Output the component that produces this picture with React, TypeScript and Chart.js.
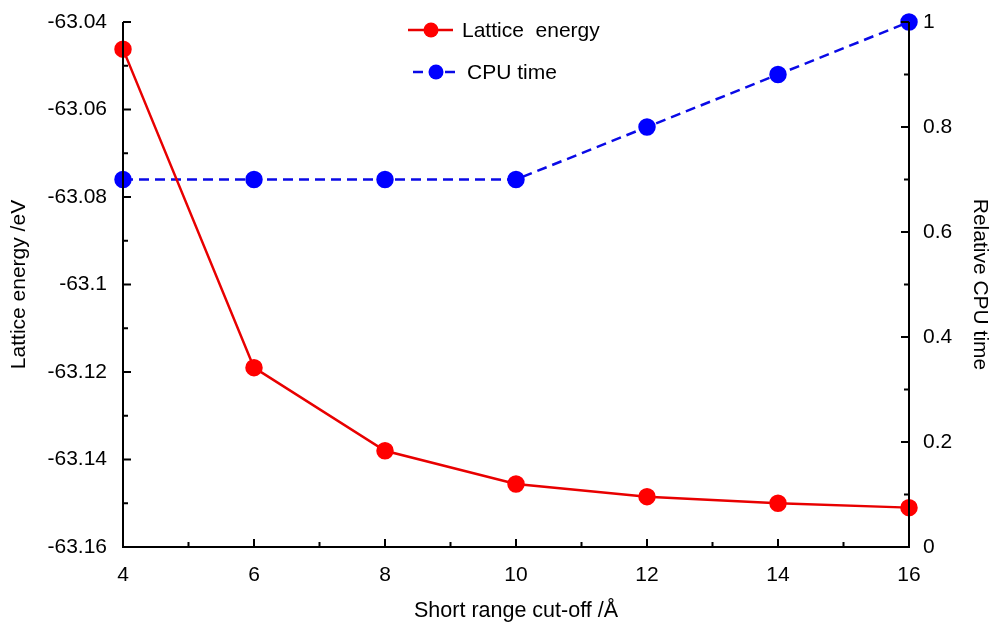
import React, { useEffect, useRef } from 'react';
import { Chart, registerables } from 'chart.js';
Chart.register(...registerables);

const cutoffs = [4, 6, 8, 10, 12, 14, 16];
const latticeEnergy = [-63.0462, -63.119, -63.138, -63.1456, -63.1485, -63.15, -63.151];
const cpuTime = [0.7, 0.7, 0.7, 0.7, 0.8, 0.9, 1.0];
const seriesLabels = ['Lattice  energy', 'CPU time'];
const xTitle = 'Short range cut-off /\u00c5';
const yTitle = 'Lattice energy /eV';
const y1Title = 'Relative CPU time';

const FONT = 'Arial, "Liberation Sans", sans-serif';
const FS = 21;
const RED = '#ff0000';
const RED_LINE = '#e80000';
const BLUE = '#0000ff';
const BLUE_LINE = '#0a0ae6';

const axesPlugin = {
  id: 'inwardAxes',
  afterDatasetsDraw(chart: any) {
    const ctx = chart.ctx;
    const { left, right, top, bottom } = chart.chartArea;
    const sx = chart.scales.x, sy = chart.scales.y, sy1 = chart.scales.y1;
    ctx.save();
    ctx.strokeStyle = '#000';
    ctx.lineWidth = 2;
    ctx.beginPath();
    ctx.moveTo(left, top); ctx.lineTo(left, bottom); ctx.lineTo(right, bottom); ctx.lineTo(right, top);
    ctx.stroke();
    const majors = (s: any) => s.ticks.map((t: any) => t.value);
    const minors = (vals: number[]) => {
      const out: number[] = [];
      for (let i = 0; i < vals.length - 1; i++) out.push((vals[i] + vals[i + 1]) / 2);
      return out;
    };
    const MAJ = 8, MIN = 5;
    ctx.beginPath();
    const xm = majors(sx);
    xm.forEach((v: number) => { const p = sx.getPixelForValue(v); ctx.moveTo(p, bottom); ctx.lineTo(p, bottom - MAJ); });
    minors(xm).forEach((v) => { const p = sx.getPixelForValue(v); ctx.moveTo(p, bottom); ctx.lineTo(p, bottom - MIN); });
    const ym = majors(sy);
    ym.forEach((v: number) => { const p = sy.getPixelForValue(v); ctx.moveTo(left, p); ctx.lineTo(left + MAJ, p); });
    minors(ym).forEach((v) => { const p = sy.getPixelForValue(v); ctx.moveTo(left, p); ctx.lineTo(left + MIN, p); });
    const y1m = majors(sy1);
    y1m.forEach((v: number) => { const p = sy1.getPixelForValue(v); ctx.moveTo(right, p); ctx.lineTo(right - MAJ, p); });
    minors(y1m).forEach((v) => { const p = sy1.getPixelForValue(v); ctx.moveTo(right, p); ctx.lineTo(right - MIN, p); });
    ctx.stroke();
    ctx.restore();
  },
  afterDraw(chart: any) {
    const ctx = chart.ctx;
    const ds = chart.data.datasets;
    const entries = [
      { x: 408, y: 30, tx: 462 },
      { x: 413, y: 72, tx: 467 },
    ];
    ctx.save();
    entries.forEach((e, i) => {
      const d = ds[i];
      ctx.strokeStyle = d.borderColor;
      ctx.lineWidth = d.borderWidth;
      ctx.setLineDash(d.borderDash || []);
      ctx.beginPath();
      ctx.moveTo(e.x, e.y); ctx.lineTo(e.x + 45, e.y);
      ctx.stroke();
      ctx.setLineDash([]);
      ctx.fillStyle = d.pointBackgroundColor;
      ctx.beginPath();
      ctx.arc(e.x + 23, e.y, 7.5, 0, Math.PI * 2);
      ctx.fill();
      ctx.fillStyle = '#000';
      ctx.font = `${FS}px ${FONT}`;
      ctx.textBaseline = 'middle';
      ctx.textAlign = 'left';
      ctx.fillText(d.label, e.tx, e.y + 1);
    });
    ctx.restore();
  },
};

const noPadV = (w: number) => (s: any) => { s.width = w; s.paddingTop = 0; s.paddingBottom = 0; };

export default function App() {
  const ref = useRef<HTMLCanvasElement>(null);
  useEffect(() => {
    document.body.style.margin = '0';
    const chart = new Chart(ref.current!, {
      type: 'line',
      data: {
        datasets: [
          {
            label: seriesLabels[0],
            data: cutoffs.map((x, i) => ({ x, y: latticeEnergy[i] })),
            yAxisID: 'y',
            borderColor: RED_LINE,
            backgroundColor: RED,
            pointBackgroundColor: RED,
            pointBorderColor: RED,
            pointRadius: 7.5,
            borderWidth: 2.5,
            clip: false as any,
          },
          {
            label: seriesLabels[1],
            data: cutoffs.map((x, i) => ({ x, y: cpuTime[i] })),
            yAxisID: 'y1',
            borderColor: BLUE_LINE,
            backgroundColor: BLUE,
            pointBackgroundColor: BLUE,
            pointBorderColor: BLUE,
            pointRadius: 7.5,
            borderWidth: 2.5,
            borderDash: [10, 6],
            clip: false as any,
          },
        ],
      },
      options: {
        responsive: false,
        animation: false,
        layout: { padding: { top: 22, left: 0, right: 0, bottom: 0 } },
        plugins: { legend: { display: false }, tooltip: { enabled: false } },
        scales: {
          x: {
            type: 'linear',
            min: 4,
            max: 16,
            ticks: { stepSize: 2, color: '#000', font: { family: FONT, size: FS }, padding: 16 },
            grid: { display: false, drawTicks: false },
            border: { display: false },
            title: { display: true, text: xTitle, color: '#000', font: { family: FONT, size: 21.5 }, padding: { top: 4, bottom: 0 } },
            afterFit: (s: any) => { s.height = 77; s.paddingLeft = 0; s.paddingRight = 0; },
          },
          y: {
            type: 'linear',
            position: 'left',
            min: -63.16,
            max: -63.04,
            ticks: {
              stepSize: 0.02,
              color: '#000',
              font: { family: FONT, size: FS },
              padding: 16,
              callback: (v: any) => String(parseFloat(Number(v).toFixed(2))),
            },
            grid: { display: false, drawTicks: false },
            border: { display: false },
            title: { display: true, text: yTitle, color: '#000', font: { family: FONT, size: FS }, padding: { top: 7, bottom: 0 } },
            afterFit: noPadV(123),
          },
          y1: {
            type: 'linear',
            position: 'right',
            min: 0,
            max: 1,
            ticks: {
              stepSize: 0.2,
              color: '#000',
              font: { family: FONT, size: FS },
              padding: 14,
              callback: (v: any) => String(parseFloat(Number(v).toFixed(2))),
            },
            grid: { display: false, drawTicks: false },
            border: { display: false },
            title: { display: true, text: y1Title, color: '#000', font: { family: FONT, size: FS }, padding: { top: 0, bottom: 0 } },
            afterFit: noPadV(83),
          },
        },
      },
      plugins: [axesPlugin],
    });
    return () => chart.destroy();
  }, []);
  return (
    <div style={{ position: 'absolute', left: 0, top: 0, width: 992, height: 624, background: '#fff' }}>
      <canvas ref={ref} width={992} height={624} />
    </div>
  );
}
